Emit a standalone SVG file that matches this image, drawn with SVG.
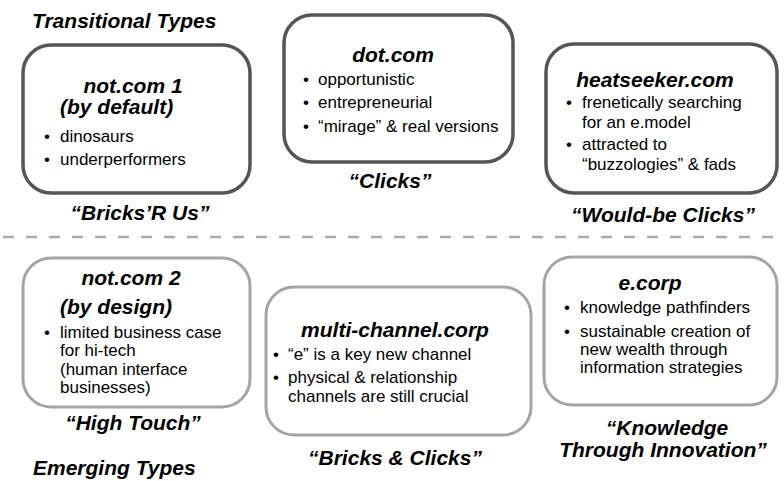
<svg xmlns="http://www.w3.org/2000/svg" width="784" height="481" viewBox="0 0 784 481">
<style>
.bg{fill:#fff}
.top{fill:#fff;stroke:#555;stroke-width:3.5}
.bot{fill:#fff;stroke:#a4a4a4;stroke-width:3}
text{font-family:"Liberation Sans",Arial,sans-serif;fill:#000}
.h{font-size:21px;font-weight:bold;font-style:italic}
.t{font-size:17px}
.c{text-anchor:middle}
.sep{stroke:#ababab;stroke-width:2.5;stroke-dasharray:11 12;fill:none}
</style>
<rect class="bg" x="0" y="0" width="784" height="481"/>
<text class="h" x="32" y="28">Transitional Types</text>
<text class="h" x="33" y="475">Emerging Types</text>
<g id="connectors">
<line class="sep" x1="3" y1="237" x2="784" y2="237"/>
</g>
<g id="notcom1">
<rect class="top" x="23" y="45" width="227" height="148" rx="28"/>
<text class="h c" x="133" y="93">not.com 1</text>
<text class="h" x="60" y="114">(by default)</text>
<text class="t" x="44" y="142">•</text><text class="t" x="60" y="142">dinosaurs</text>
<text class="t" x="44" y="165">•</text><text class="t" x="60" y="165">underperformers</text>
<text class="h c" x="140" y="220">“Bricks’R Us”</text>
</g>
<g id="dotcom">
<rect class="top" x="284" y="15" width="229" height="147" rx="28"/>
<text class="h c" x="393" y="62">dot.com</text>
<text class="t" x="303" y="85">•</text><text class="t" x="318" y="85">opportunistic</text>
<text class="t" x="303" y="108">•</text><text class="t" x="318" y="108">entrepreneurial</text>
<text class="t" x="303" y="132">•</text><text class="t" x="318" y="132">“mirage” &amp; real versions</text>
<text class="h c" x="390" y="188">“Clicks”</text>
</g>
<g id="heatseeker">
<rect class="top" x="546" y="44" width="231" height="149" rx="28"/>
<text class="h c" x="655" y="87">heatseeker.com</text>
<text class="t" x="566" y="108">•</text><text class="t" x="582" y="108">frenetically searching</text>
<text class="t" x="582" y="128">for an e.model</text>
<text class="t" x="566" y="150">•</text><text class="t" x="582" y="150">attracted to</text>
<text class="t" x="582" y="170">“buzzologies” &amp; fads</text>
<text class="h c" x="663" y="222">“Would-be Clicks”</text>
</g>
<g id="notcom2">
<rect class="bot" x="23" y="258" width="227" height="149" rx="28"/>
<text class="h c" x="131" y="285">not.com 2</text>
<text class="h" x="60" y="314">(by design)</text>
<text class="t" x="44" y="338">•</text><text class="t" x="60" y="338">limited business case</text>
<text class="t" x="60" y="356">for hi-tech</text>
<text class="t" x="60" y="375">(human interface</text>
<text class="t" x="60" y="393">businesses)</text>
<text class="h c" x="133" y="430">“High Touch”</text>
</g>
<g id="multichannel">
<rect class="bot" x="266" y="287" width="265" height="148" rx="28"/>
<text class="h c" x="395" y="337">multi-channel.corp</text>
<text class="t" x="273" y="360">•</text><text class="t" x="288" y="360">“e” is a key new channel</text>
<text class="t" x="273" y="383">•</text><text class="t" x="288" y="383">physical &amp; relationship</text>
<text class="t" x="288" y="402">channels are still crucial</text>
<text class="h c" x="395" y="465">“Bricks &amp; Clicks”</text>
</g>
<g id="ecorp">
<rect class="bot" x="544" y="257" width="233" height="148" rx="28"/>
<text class="h c" x="650" y="290">e.corp</text>
<text class="t" x="564" y="313">•</text><text class="t" x="580" y="313">knowledge pathfinders</text>
<text class="t" x="564" y="337">•</text><text class="t" x="580" y="337">sustainable creation of</text>
<text class="t" x="580" y="355">new wealth through</text>
<text class="t" x="580" y="373">information strategies</text>
<text class="h c" x="667" y="435">“Knowledge</text>
<text class="h c" x="663" y="457">Through Innovation”</text>
</g>
</svg>
